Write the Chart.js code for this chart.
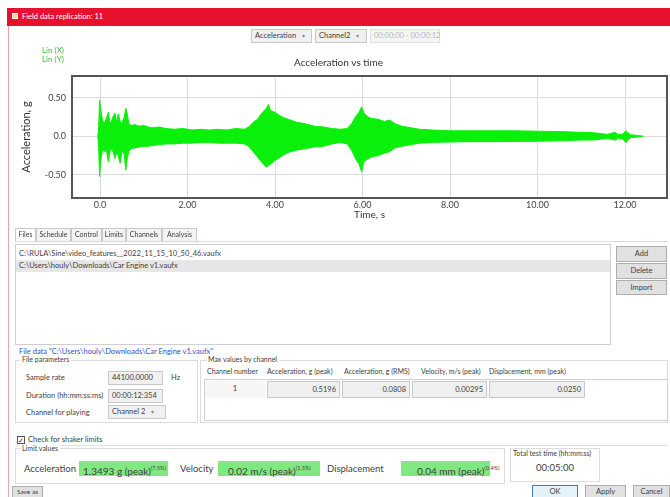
<!DOCTYPE html>
<html><head><meta charset="utf-8">
<script src="https://cdn.jsdelivr.net/npm/chart.js@4.4.1/dist/chart.umd.min.js"></script>
<style>
*{box-sizing:border-box;margin:0;padding:0}
body{width:670px;height:497px;overflow:hidden;background:#fff;font-family:Lato,"Noto Sans",sans-serif;font-size:7.5px;color:#404040;position:relative}
.a{position:absolute;white-space:nowrap}
.box{position:absolute;border:1px solid #cfcfcf}
.tb{position:absolute;background:#f0f0f0;border:1px solid #c8c8c8;font-size:7.5px;line-height:12px;padding-left:3px;white-space:nowrap}
.btn{position:absolute;background:#e1e1e1;border:1px solid #adadad;text-align:center;font-size:7.5px;white-space:nowrap}
.tab{position:absolute;top:228px;height:13px;border:1px solid #c8c8c8;border-bottom:none;background:#f4f4f4;font-size:7px;line-height:11px;text-align:center}
.leg{position:absolute;background:#fff;padding:0 2px;font-size:7px;white-space:nowrap}
.green{position:absolute;top:461px;height:15px;background:#80e880;font-size:10px;line-height:15px;white-space:nowrap;padding-left:4px}
.green sup{font-size:5.5px;vertical-align:5px}
.arr{color:#888;font-size:6px;margin-left:6px}
.hdr{position:absolute;top:367px;font-size:7px;white-space:nowrap}
.cell{position:absolute;top:381px;height:17px;background:#f0f0f0;border:1px solid #c8c8c8;text-align:right;padding-right:3px;line-height:15px;font-size:7.5px}
.big{position:absolute;top:461px;font-size:9.5px;line-height:15px;white-space:nowrap}
</style></head>
<body>
<div class="a" style="left:7px;top:8px;width:663px;height:18px;background:#e8112d"></div>
<div class="a" style="left:12px;top:13px;width:6px;height:6px;background:#ffd3a0;border:1px solid #fff"></div>
<div class="a" style="left:22px;top:12px;color:#fff;font-size:7.5px">Field data replication: 11</div>
<div class="a" style="left:8px;top:26px;width:1px;height:471px;background:#f0a0a8"></div>

<div class="tb" style="left:251px;top:29px;width:61px;height:14px">Acceleration<span class="arr">▾</span></div>
<div class="tb" style="left:315px;top:29px;width:52px;height:14px">Channel2<span class="arr">▾</span></div>
<div class="tb" style="left:370px;top:29px;width:70px;height:14px;color:#b8b8b8;background:#f5f5f5;border-color:#e0e0e0">00:00:00 - 00:00:12</div>

<div style="position:absolute;left:10px;top:40px;width:660px;height:180px"><canvas id="c" width="660" height="180"></canvas></div>
<div class="a" style="left:42px;top:45px;color:#3cbf3c;font-size:8px">Lin (X)</div>
<div class="a" style="left:42px;top:54px;color:#3cbf3c;font-size:8px">Lin (Y)</div>

<div class="tab" style="left:15px;width:21px;background:#fff">Files</div>
<div class="tab" style="left:36px;width:35px">Schedule</div>
<div class="tab" style="left:71px;width:31px">Control</div>
<div class="tab" style="left:102px;width:24px">Limits</div>
<div class="tab" style="left:126px;width:36px">Channels</div>
<div class="tab" style="left:162px;width:35px">Analysis</div>
<div class="a" style="left:15px;top:241px;width:653px;height:1px;background:#d8d8d8"></div>

<div class="box" style="left:15px;top:244px;width:596px;height:101px"></div>
<div class="a" style="left:19px;top:249px">C:\RULA\Sine\video_features__2022_11_15_10_50_46.vaufx</div>
<div class="a" style="left:16px;top:260px;width:594px;height:12px;background:#e6e6e6"></div>
<div class="a" style="left:19px;top:261px">C:\Users\houly\Downloads\Car Engine v1.vaufx</div>

<div class="btn" style="left:616px;top:246px;width:51px;height:16px;line-height:14px">Add</div>
<div class="btn" style="left:616px;top:263px;width:51px;height:16px;line-height:14px">Delete</div>
<div class="btn" style="left:616px;top:280px;width:51px;height:15px;line-height:13px">Import</div>

<div class="a" style="left:19px;top:347px;color:#2f4fd0">File data "C:\Users\houly\Downloads\Car Engine v1.vaufx"</div>

<div class="box" style="left:15px;top:360px;width:183px;height:63px;border-color:#dcdcdc"></div>
<div class="leg" style="left:20px;top:355px">File parameters</div>
<div class="a" style="left:26px;top:373px">Sample rate</div>
<div class="tb" style="left:108px;top:371px;width:55px;height:14px">44100.0000</div>
<div class="a" style="left:171px;top:373px">Hz</div>
<div class="a" style="left:26px;top:391px">Duration (hh:mm:ss:ms)</div>
<div class="tb" style="left:108px;top:389px;width:55px;height:14px">00:00:12:354</div>
<div class="a" style="left:26px;top:408px">Channel for playing</div>
<div class="tb" style="left:108px;top:405px;width:58px;height:14px">Channel 2<span class="arr">▾</span></div>

<div class="box" style="left:200px;top:360px;width:468px;height:63px;border-color:#dcdcdc"></div>
<div class="leg" style="left:206px;top:355px">Max values by channel</div>
<div class="hdr" style="left:207px">Channel number</div>
<div class="hdr" style="left:267px">Acceleration, g (peak)</div>
<div class="hdr" style="left:344px">Acceleration, g (RMS)</div>
<div class="hdr" style="left:421px">Velocity, m/s (peak)</div>
<div class="hdr" style="left:489px">Displacement, mm (peak)</div>
<div class="box" style="left:204px;top:379px;width:464px;height:42px"></div>
<div class="a" style="left:205px;top:381px;width:60px;height:17px;background:#f6f6f6;text-align:center;line-height:15px">1</div>
<div class="cell" style="left:267px;width:73px">0.5196</div>
<div class="cell" style="left:342px;width:68px">0.0808</div>
<div class="cell" style="left:412px;width:75px">0.00295</div>
<div class="cell" style="left:489px;width:96px">0.0250</div>

<div class="a" style="left:17px;top:436px;width:8px;height:8px;border:1px solid #555;font-size:7px;line-height:6px;text-align:center;color:#222">✓</div>
<div class="a" style="left:28px;top:435px">Check for shaker limits</div>
<div class="a" style="left:15px;top:445px;width:653px;height:1px;background:#e0e0e0"></div>

<div class="box" style="left:15px;top:448px;width:490px;height:36px;border-color:#dcdcdc"></div>
<div class="leg" style="left:20px;top:444px">Limit values</div>
<div class="big" style="left:24px">Acceleration</div>
<div class="green" style="left:79px;width:89px">1.3493 g (peak)<sup>(7.5%)</sup></div>
<div class="big" style="left:180px">Velocity</div>
<div class="green" style="left:218px;width:102px;padding-left:10px">0.02 m/s (peak)<sup>(1.5%)</sup></div>
<div class="big" style="left:327px">Displacement</div>
<div class="green" style="left:401px;width:89px;padding-left:16px">0.04 mm (peak)<sup>(0.4%)</sup></div>

<div class="box" style="left:510px;top:448px;width:90px;height:34px;border-color:#dcdcdc"></div>
<div class="a" style="left:513px;top:449px;font-size:7px">Total test time (hh:mm:ss)</div>
<div class="a" style="left:510px;top:462px;width:90px;text-align:center;font-size:9.5px">00:05:00</div>

<div class="btn" style="left:12px;top:486px;width:31px;height:12px;line-height:10px;font-size:6.5px">Save as</div>
<div class="btn" style="left:532px;top:485px;width:46px;height:13px;line-height:11px;border-color:#3c7fb1;background:#e5f1fb">OK</div>
<div class="btn" style="left:585px;top:485px;width:41px;height:13px;line-height:11px">Apply</div>
<div class="btn" style="left:633px;top:485px;width:37px;height:13px;line-height:11px">Cancel</div>

<script>
// Envelope of the acceleration waveform (time in s, acceleration in g)
const times = [-0.05,-0.03,-0.01,0.02,0.06,0.10,0.14,0.19,0.23,0.27,0.31,0.34,0.38,0.42,0.46,0.50,0.55,0.59,0.62,0.66,0.72,0.80,0.90,1.0,1.1,1.2,1.35,1.5,1.7,1.9,2.1,2.3,2.5,2.7,2.9,3.1,3.3,3.4,3.5,3.6,3.7,3.8,3.85,3.9,4.0,4.1,4.2,4.35,4.5,4.7,4.9,5.1,5.3,5.5,5.65,5.75,5.85,5.92,5.98,6.03,6.1,6.2,6.35,6.5,6.62,6.75,6.9,7.1,7.3,7.6,8.0,8.5,9.0,9.5,10.0,10.5,11.0,11.3,11.5,11.6,11.7,11.78,11.85,11.95,12.02,12.06,12.12,12.2,12.3,12.42];
const upper = [0,0.12,0.47,0.33,0.20,0.17,0.22,0.31,0.16,0.21,0.27,0.30,0.18,0.29,0.19,0.17,0.24,0.36,0.30,0.16,0.14,0.15,0.13,0.14,0.12,0.11,0.12,0.10,0.09,0.10,0.08,0.09,0.08,0.09,0.08,0.10,0.09,0.12,0.18,0.22,0.30,0.36,0.41,0.33,0.31,0.27,0.24,0.21,0.18,0.16,0.13,0.12,0.10,0.09,0.10,0.16,0.26,0.31,0.38,0.30,0.26,0.23,0.22,0.19,0.21,0.16,0.13,0.11,0.09,0.08,0.07,0.07,0.07,0.07,0.065,0.06,0.05,0.045,0.03,0.025,0.04,0.05,0.02,0.03,0.07,0.05,0.02,0.015,0.01,0];
const lower = [0,-0.15,-0.52,-0.30,-0.17,-0.20,-0.16,-0.33,-0.19,-0.16,-0.22,-0.29,-0.21,-0.26,-0.35,-0.20,-0.22,-0.44,-0.30,-0.19,-0.16,-0.15,-0.14,-0.13,-0.13,-0.12,-0.11,-0.10,-0.10,-0.09,-0.09,-0.08,-0.08,-0.09,-0.09,-0.09,-0.10,-0.13,-0.20,-0.27,-0.34,-0.40,-0.38,-0.36,-0.31,-0.28,-0.24,-0.20,-0.18,-0.16,-0.14,-0.13,-0.10,-0.08,-0.10,-0.18,-0.30,-0.36,-0.46,-0.33,-0.30,-0.27,-0.25,-0.22,-0.20,-0.15,-0.13,-0.11,-0.09,-0.08,-0.075,-0.07,-0.07,-0.068,-0.065,-0.06,-0.05,-0.048,-0.035,-0.03,-0.04,-0.05,-0.025,-0.035,-0.085,-0.05,-0.02,-0.015,-0.01,0];
const xTicks = [0,2,4,6,8,10,12];
const xTickLabels = ['0.0','2.00','4.00','6.00','8.00','10.00','12.00'];
const yTicks = [-0.5,0,0.5];
const yTickLabels = ['-0.50','0.0','0.50'];

const GREEN = '#0af00a';
const FONT = 'Lato';
const frame = {id:'frame', afterDraw(c){const {ctx,chartArea:a}=c;ctx.save();ctx.strokeStyle='#555';ctx.lineWidth=2;ctx.strokeRect(a.left,a.top,a.right-a.left,a.bottom-a.top);ctx.restore();}};

new Chart(document.getElementById('c'), {
  type:'line',
  data:{datasets:[
    {data:times.map((t,i)=>({x:t,y:upper[i]})),borderColor:GREEN,backgroundColor:GREEN,borderWidth:1,pointRadius:0,fill:'+1',tension:0},
    {data:times.map((t,i)=>({x:t,y:lower[i]})),borderColor:GREEN,backgroundColor:GREEN,borderWidth:1,pointRadius:0,fill:false,tension:0}
  ]},
  options:{
    responsive:false,animation:false,
    layout:{padding:{right:3,left:0,top:0,bottom:0}},
    plugins:{legend:{display:false},tooltip:{enabled:false},
      title:{display:true,text:'Acceleration vs time',color:'#333',font:{family:FONT,size:10,weight:'normal'},padding:{top:17,bottom:7}}},
    scales:{
      x:{type:'linear',min:-0.64,max:12.96,
        afterBuildTicks:s=>{s.ticks=xTicks.map(v=>({value:v}));},
        ticks:{callback:v=>xTickLabels[xTicks.indexOf(v)],color:'#444',font:{family:FONT,size:9,lineHeight:1},padding:3,maxRotation:0,autoSkip:false},
        grid:{color:'#dcdcdc',drawTicks:false},border:{display:false},
        title:{display:true,text:'Time, s',color:'#333',font:{family:FONT,size:10,lineHeight:1},padding:{top:-3,bottom:0}}},
      y:{min:-0.8,max:0.78,
        afterBuildTicks:s=>{s.ticks=yTicks.map(v=>({value:v}));},
        afterFit:s=>{s.width=62;},
        ticks:{callback:v=>yTickLabels[yTicks.indexOf(v)],color:'#444',font:{family:FONT,size:9},padding:6},
        grid:{color:'#dcdcdc',drawTicks:false},border:{display:false},
        title:{display:true,text:'Acceleration, g',color:'#333',font:{family:FONT,size:11},padding:{top:10,bottom:0}}}
    }
  },
  plugins:[frame]
});
</script>
</body></html>
